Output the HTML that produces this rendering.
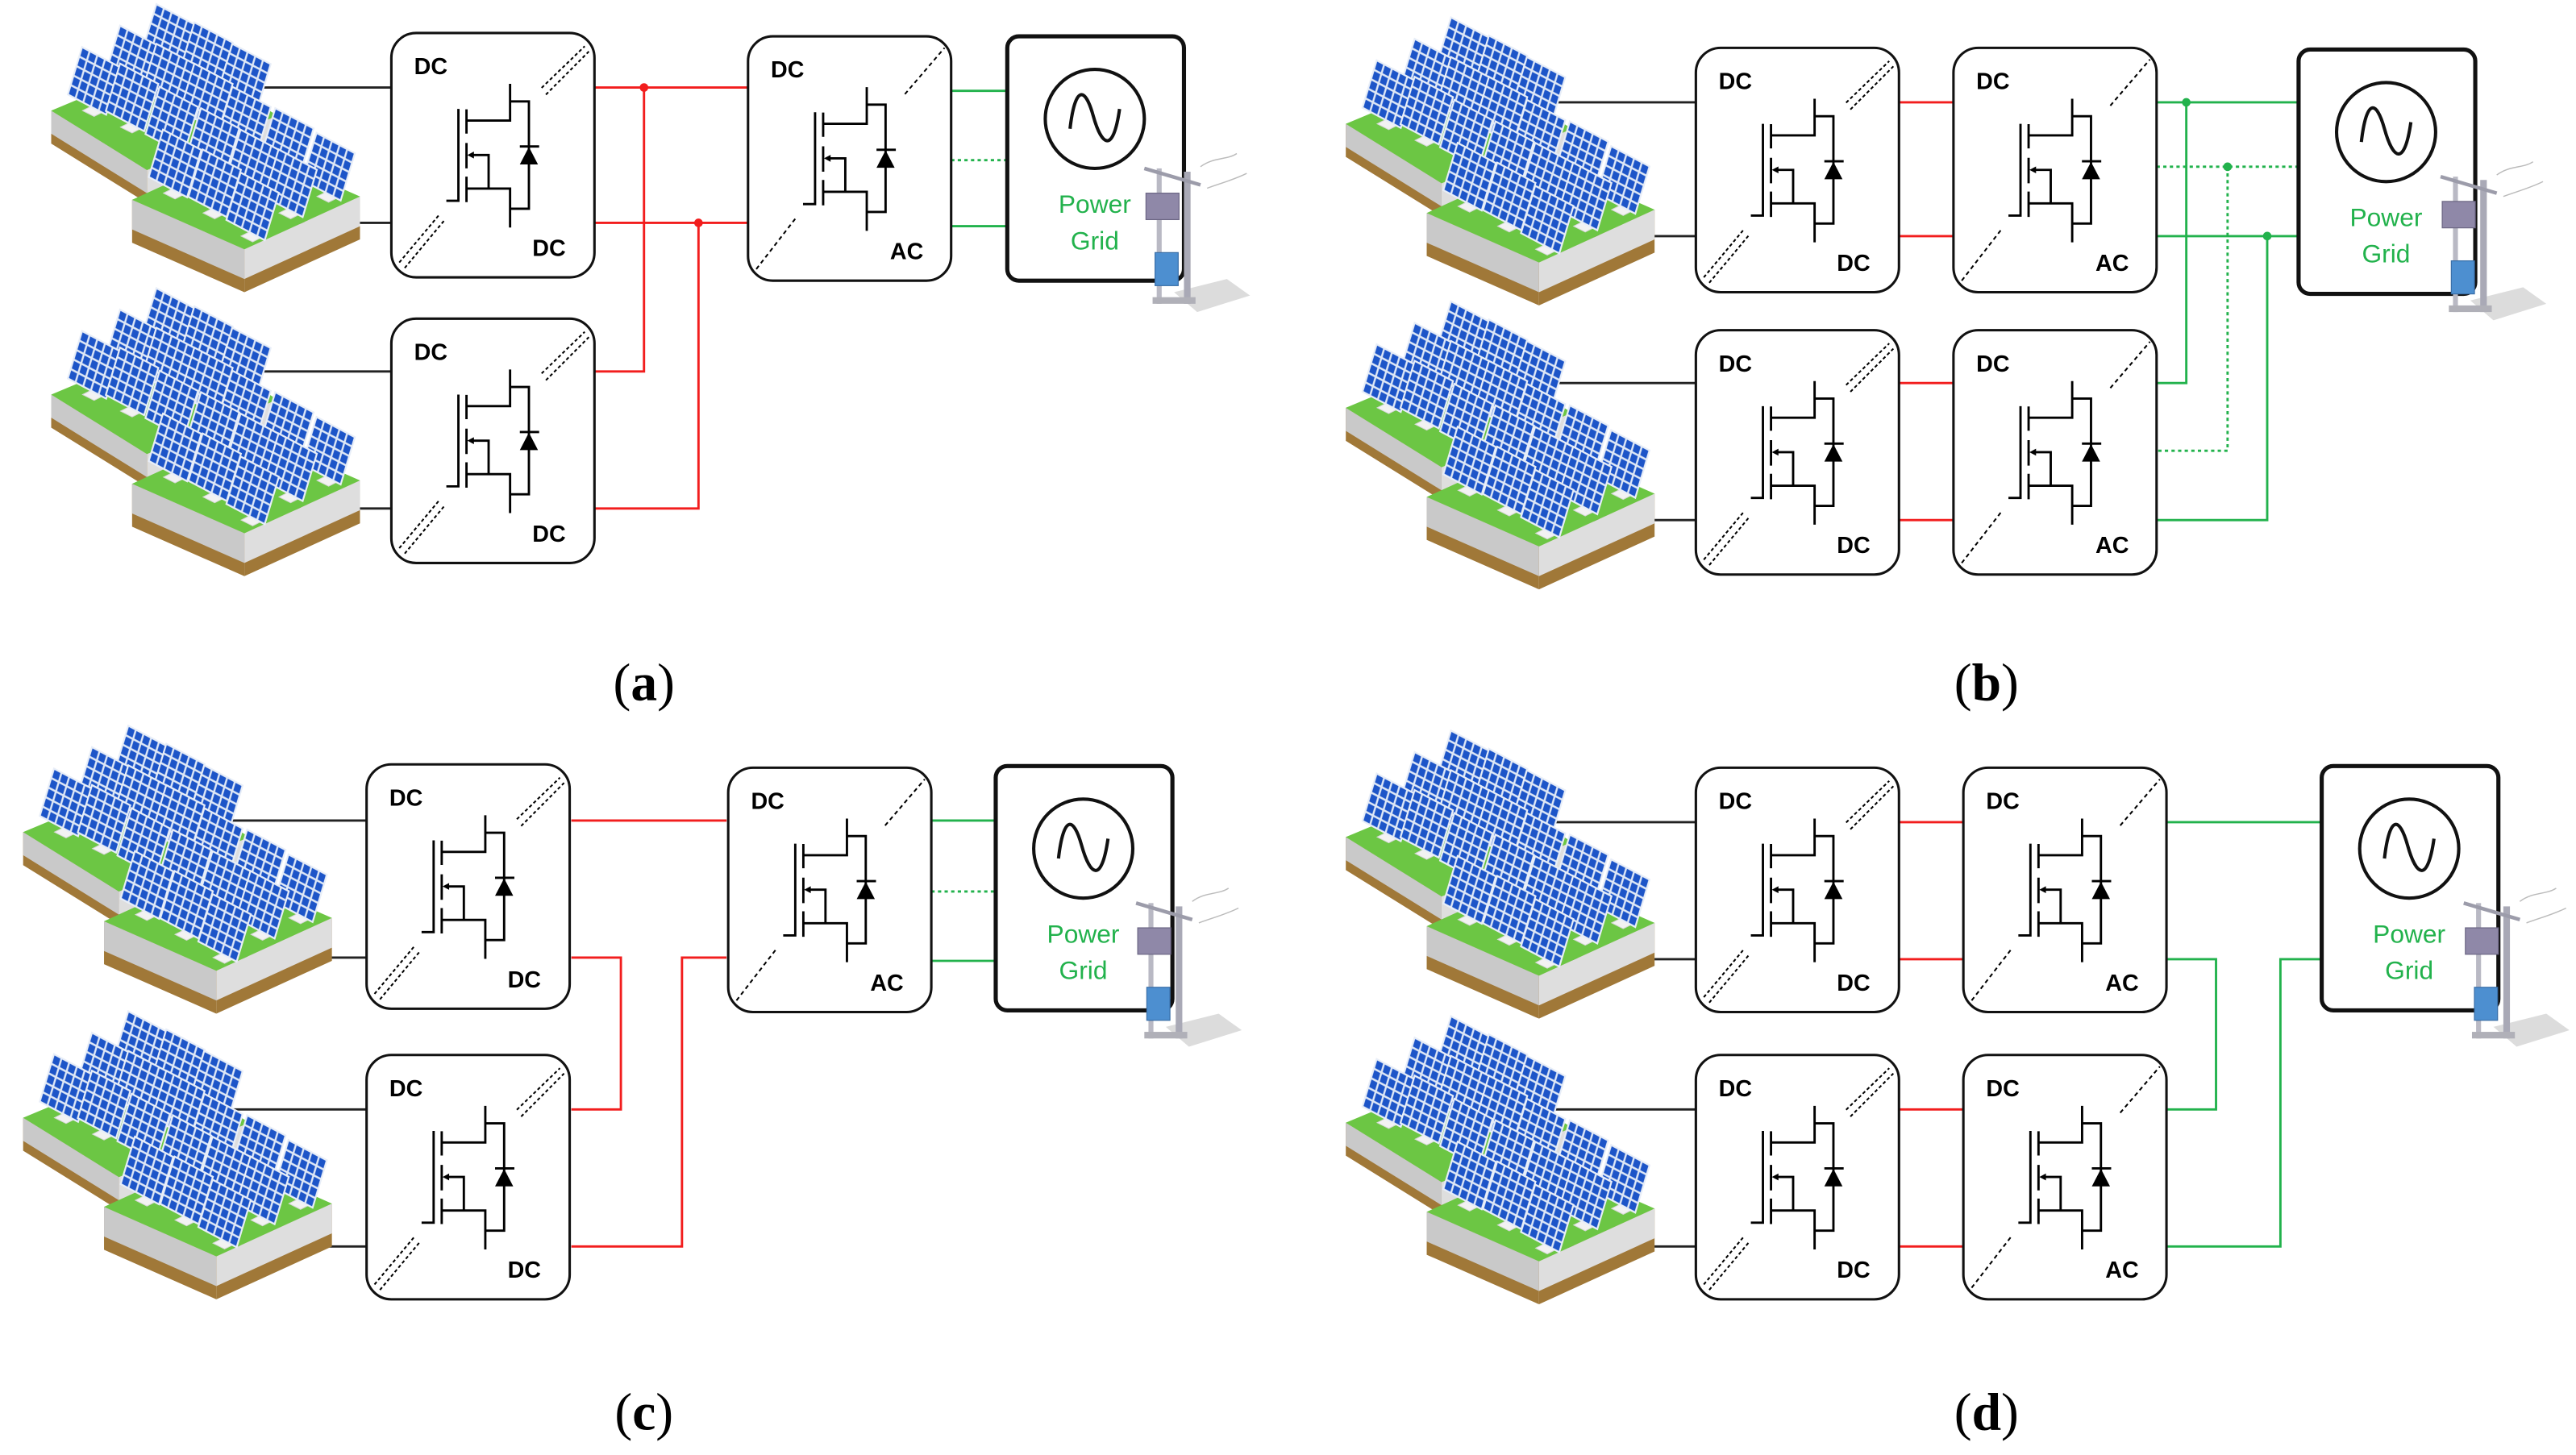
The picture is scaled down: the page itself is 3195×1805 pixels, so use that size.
<!DOCTYPE html>
<html><head><meta charset="utf-8"><style>
html,body{margin:0;padding:0;background:#fff;}
svg{display:block;}
</style></head><body>
<svg width="3195" height="1805" viewBox="0 0 1560 881.3" preserveAspectRatio="none" xmlns="http://www.w3.org/2000/svg">
<defs>
<pattern id="cells" patternUnits="userSpaceOnUse" width="4.4" height="4.8" x="-11" y="-12">
<rect width="4.4" height="4.8" fill="#dfe8f6"/>
<rect x="0.5" y="0.5" width="3.4" height="3.8" fill="#1d55c8"/>
</pattern>
<g id="panel">
<line x1="0" y1="4" x2="0" y2="18" stroke="#cfcfcf" stroke-width="2.2"/>
<polygon points="-7,18 0,14.5 7,18 0,21.5" fill="#f2f2f2" stroke="#d8d8d8" stroke-width="0.5"/>
<g transform="matrix(1.06,0.56,-0.36,1.2,0,0)">
<rect x="-11" y="-12" width="22" height="24" fill="url(#cells)" stroke="#e8eef8" stroke-width="0.8"/>
</g>
</g>
<g id="farm">
<polygon points="1,57 59,93 59,113 1,77" fill="#a07838"/>
<polygon points="1,57 59,93 59,107 1,71" fill="#c9c9c9"/>
<polygon points="59,93 138,60 138,80 59,113" fill="#a07838"/>
<polygon points="59,93 138,60 138,74 59,107" fill="#dedede"/>
<polygon points="1,57 80,24 138,60 59,93" fill="#6cc644"/>
<use href="#panel" x="72" y="13"/><use href="#panel" x="50" y="26"/><use href="#panel" x="95" y="24"/>
<use href="#panel" x="118" y="37"/><use href="#panel" x="27" y="39"/><use href="#panel" x="72" y="37"/>
<use href="#panel" x="50" y="49"/><use href="#panel" x="95" y="49"/><use href="#panel" x="74" y="63"/><use href="#panel" x="118" y="63"/>
<polygon points="50,111 118,141 118,167 50,137" fill="#a07838"/>
<polygon points="50,111 118,141 118,159 50,129" fill="#c9c9c9"/>
<polygon points="118,141 188,109 188,135 118,167" fill="#a07838"/>
<polygon points="118,141 188,109 188,127 118,159" fill="#dedede"/>
<polygon points="50,111 120,79 188,109 118,141" fill="#6cc644"/>
<use href="#panel" x="99" y="76"/><use href="#panel" x="144" y="76"/><use href="#panel" x="76" y="89"/>
<use href="#panel" x="123" y="89"/><use href="#panel" x="169" y="91"/><use href="#panel" x="100" y="101"/>
<use href="#panel" x="146" y="101"/><use href="#panel" x="123" y="115"/>
</g>
<g id="sw" fill="none" stroke="#000" stroke-width="1.4">
<path d="M33.3,101.6 H40.6 V46"/>
<path d="M45.5,46.2 V60.9 M45.5,66.6 V82 M45.5,87 V102.4"/>
<path d="M45.5,53 H71.9 V30.8 M71.9,41.4 H83.3 V106.4 H71.9"/>
<path d="M45.5,94.2 H71.9 V117.8 M58.9,94.2 V73.9 H48"/>
<path d="M77.8,68.7 H89.5"/>
<polygon points="46,73.9 50,71.8 50,76" fill="#000" stroke="none"/>
<polygon points="83.3,69 77.8,79.6 88.8,79.6" fill="#000" stroke="none"/>
</g>
<g id="dcdc">
<rect x="0" y="0" width="123" height="148" rx="15" fill="#fff" stroke="#111" stroke-width="1.5"/>
<use href="#sw"/>
<text x="13.8" y="25" font-family="Liberation Sans, sans-serif" font-weight="bold" font-size="14">DC</text>
<text x="85.4" y="135" font-family="Liberation Sans, sans-serif" font-weight="bold" font-size="14">DC</text>
<g stroke="#000" stroke-width="1" stroke-dasharray="2 1.5">
<line x1="91" y1="33.2" x2="117.1" y2="8"/><line x1="93.6" y1="37.3" x2="119.6" y2="11.2"/>
<line x1="4.8" y1="139" x2="29.3" y2="109.7"/><line x1="8.1" y1="142.3" x2="32.5" y2="113"/>
</g>
</g>
<g id="dcac">
<rect x="0" y="0" width="123" height="148" rx="15" fill="#fff" stroke="#111" stroke-width="1.5"/>
<use href="#sw"/>
<text x="13.8" y="25" font-family="Liberation Sans, sans-serif" font-weight="bold" font-size="14">DC</text>
<text x="86" y="135" font-family="Liberation Sans, sans-serif" font-weight="bold" font-size="14">AC</text>
<g stroke="#000" stroke-width="1" stroke-dasharray="2.5 2">
<line x1="95" y1="35" x2="119" y2="7"/>
<line x1="5" y1="141" x2="29" y2="110"/>
</g>
</g>
<g id="grid">
<rect x="0" y="0" width="107" height="148" rx="7" fill="#fff" stroke="#111" stroke-width="2.5"/>
<circle cx="53" cy="50" r="30" fill="none" stroke="#111" stroke-width="2"/>
<path d="M38,56 C41,30 47,30 52,48 S64,72 68,44" fill="none" stroke="#111" stroke-width="2"/>
<text x="53" y="107" text-anchor="middle" font-family="Liberation Sans, sans-serif" font-size="15.5" fill="#22b24c">Power</text>
<text x="53" y="129" text-anchor="middle" font-family="Liberation Sans, sans-serif" font-size="15.5" fill="#22b24c">Grid</text>
</g>
<g id="tower">
<polygon points="18,82 50,74 64,84 32,94" fill="#dcdcdc"/>
<path d="M34,6 C42,0 50,2 56,-2 M38,19 C46,16 54,14 62,10" fill="none" stroke="#bbb" stroke-width="0.7"/>
<rect x="7.5" y="7" width="3" height="82" fill="#b9b9c4"/>
<rect x="24" y="9" width="4" height="80" fill="#a9a9b6"/>
<line x1="0" y1="7" x2="34" y2="17" stroke="#9c9caa" stroke-width="2.2"/>
<rect x="1" y="22" width="20" height="16" fill="#8f88a8" stroke="#6d6785" stroke-width="0.6"/>
<rect x="6.5" y="58" width="14" height="20" fill="#4d8fd0" stroke="#3a6fa8" stroke-width="0.6"/>
<rect x="5" y="85" width="26" height="4" fill="#b0b0b8"/>
</g>
</defs>

<g fill="none" stroke-width="1.4">
<path d="M150,53 H237 M150,135 H237 M150,225 H237 M150,308 H237" stroke="#222"/>
<path d="M360,53 H453 M360,135 H453 M390,53 V225 H360 M423,135 V308 H360" stroke="#f21d1d"/>
<path d="M576,55 H610 M576,137 H610" stroke="#22b24c"/>
<path d="M576,97 H610" stroke="#22b24c" stroke-dasharray="2 2"/>
</g>
<circle cx="390" cy="53" r="2.6" fill="#f21d1d"/><circle cx="423" cy="135" r="2.6" fill="#f21d1d"/>
<use href="#farm" transform="translate(30,10)"/>
<use href="#farm" transform="translate(30,182)"/>
<use href="#dcdc" transform="translate(237,20)"/>
<use href="#dcdc" transform="translate(237,193)"/>
<use href="#dcac" transform="translate(453,22)"/>
<use href="#grid" transform="translate(610,22)"/>
<use href="#tower" transform="translate(693,95)"/>
<text x="390" y="424" text-anchor="middle" font-family="Liberation Serif, serif" font-size="32">(<tspan font-weight="bold">a</tspan>)</text>

<g fill="none" stroke-width="1.4">
<path d="M935,62 H1027 M935,143 H1027 M935,232 H1027 M935,315 H1027" stroke="#222"/>
<path d="M1150,62 H1183 M1150,143 H1183 M1150,232 H1183 M1150,315 H1183" stroke="#f21d1d"/>
<path d="M1306,62 H1392 M1306,143 H1392 M1324,62 V232 H1306 M1373,143 V315 H1306" stroke="#22b24c"/>
<path d="M1306,101 H1392 M1349,101 V273 H1306" stroke="#22b24c" stroke-dasharray="2 2"/>
</g>
<circle cx="1324" cy="62" r="2.6" fill="#22b24c"/><circle cx="1349" cy="101" r="2.6" fill="#22b24c"/><circle cx="1373" cy="143" r="2.6" fill="#22b24c"/>
<use href="#farm" transform="translate(814,18)"/>
<use href="#farm" transform="translate(814,190)"/>
<use href="#dcdc" transform="translate(1027,29)"/>
<use href="#dcdc" transform="translate(1027,200)"/>
<use href="#dcac" transform="translate(1183,29)"/>
<use href="#dcac" transform="translate(1183,200)"/>
<use href="#grid" transform="translate(1392,30)"/>
<use href="#tower" transform="translate(1478,100)"/>
<text x="1203" y="424" text-anchor="middle" font-family="Liberation Serif, serif" font-size="32">(<tspan font-weight="bold">b</tspan>)</text>

<g fill="none" stroke-width="1.4">
<path d="M135,497 H222 M135,580 H222 M135,672 H222 M135,755 H222" stroke="#222"/>
<path d="M346,497 H440 M346,580 H376 V672 H346 M346,755 H413 V580 H440" stroke="#f21d1d"/>
<path d="M564,497 H603 M564,582 H603" stroke="#22b24c"/>
<path d="M564,540 H603" stroke="#22b24c" stroke-dasharray="2 2"/>
</g>
<use href="#farm" transform="translate(13,447)"/>
<use href="#farm" transform="translate(13,620)"/>
<use href="#dcdc" transform="translate(222,463)"/>
<use href="#dcdc" transform="translate(222,639)"/>
<use href="#dcac" transform="translate(441,465)"/>
<use href="#grid" transform="translate(603,464)"/>
<use href="#tower" transform="translate(688,540)"/>
<text x="390" y="866" text-anchor="middle" font-family="Liberation Serif, serif" font-size="32">(<tspan font-weight="bold">c</tspan>)</text>

<g fill="none" stroke-width="1.4">
<path d="M935,498 H1027 M935,581 H1027 M935,672 H1027 M935,755 H1027" stroke="#222"/>
<path d="M1150,498 H1189 M1150,581 H1189 M1150,672 H1189 M1150,755 H1189" stroke="#f21d1d"/>
<path d="M1312,498 H1406 M1312,581 H1342 V672 H1312 M1312,755 H1381 V581 H1406" stroke="#22b24c"/>
</g>
<use href="#farm" transform="translate(814,450)"/>
<use href="#farm" transform="translate(814,623)"/>
<use href="#dcdc" transform="translate(1027,465)"/>
<use href="#dcdc" transform="translate(1027,639)"/>
<use href="#dcac" transform="translate(1189,465)"/>
<use href="#dcac" transform="translate(1189,639)"/>
<use href="#grid" transform="translate(1406,464)"/>
<use href="#tower" transform="translate(1492,540)"/>
<text x="1203" y="866" text-anchor="middle" font-family="Liberation Serif, serif" font-size="32">(<tspan font-weight="bold">d</tspan>)</text>
</svg>
</body></html>
